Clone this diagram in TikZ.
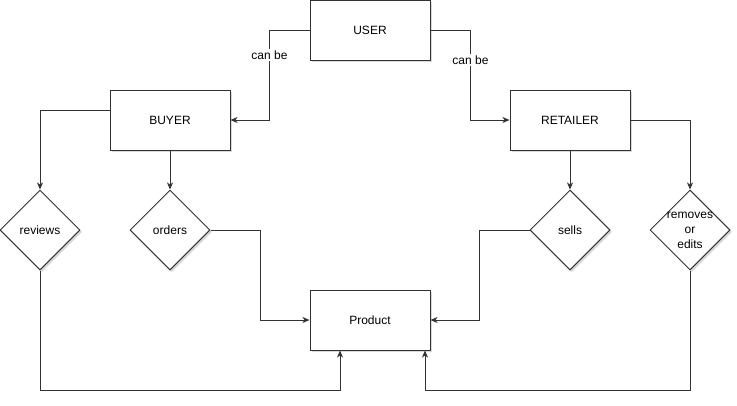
\documentclass[tikz,border=0pt]{standalone}
\usepackage{fontspec}
\setmainfont{Liberation Sans}
\usetikzlibrary{shapes.geometric,arrows.meta,shadows}
\begin{document}
\begin{tikzpicture}[x=1pt,y=-1pt,
  font=\fontsize{12}{14.5}\selectfont,
  ent/.style={draw=black!80, line width=1pt, fill=white, rectangle, minimum width=120pt, minimum height=60pt, inner sep=0pt,
    drop shadow={shadow xshift=2pt, shadow yshift=-2pt, opacity=0.25, fill=black!60}},
  rel/.style={draw=black!80, line width=1pt, fill=white, diamond, minimum width=80pt, minimum height=80pt, inner sep=0pt,
    drop shadow={shadow xshift=2pt, shadow yshift=-2pt, opacity=0.25, fill=black!60}},
  conn/.style={draw=black!80, line width=1pt, -{Stealth[length=7pt,width=6pt,inset=2pt]}},
  lbl/.style={fill=white, inner sep=1.5pt}]
\useasboundingbox (0,0) rectangle (737,405);
\node[ent] (user) at (370,30) {USER};
\node[ent] (buyer) at (170,120) {BUYER};
\node[ent] (retailer) at (570,120) {RETAILER};
\node[ent] (prod) at (370,320) {Product};
\node[rel] (rev) at (40,230) {reviews};
\node[rel] (ord) at (170,230) {orders};
\node[rel] (sells) at (570,230) {sells};
\node[rel, label={[align=center, font=\fontsize{12}{15}\selectfont]center:removes\\or\\edits}] (rem) at (690,230) {};
\draw[conn] (user.west) -- ++(-40,0) |- node[lbl, pos=0.14] {can be} (buyer.east);
\draw[conn] (user.east) -- ++(40,0) |- node[lbl, pos=0.167] {can be} (retailer.west);
\draw[conn] ([yshift=10pt]buyer.west) -| (rev.north);
\draw[conn] (buyer.south) -- (ord.north);
\draw[conn] (retailer.south) -- (sells.north);
\draw[conn] (retailer.east) -| (rem.north);
\draw[conn] (ord.east) -- ++(50,0) |- (prod.west);
\draw[conn] (sells.west) -- ++(-50,0) |- (prod.east);
\draw[conn] (rev.south) -- ++(0,120) -| ([xshift=-30pt]prod.south);
\draw[conn] (rem.south) -- ++(0,120) -| ([xshift=55pt]prod.south);
\end{tikzpicture}
\end{document}
